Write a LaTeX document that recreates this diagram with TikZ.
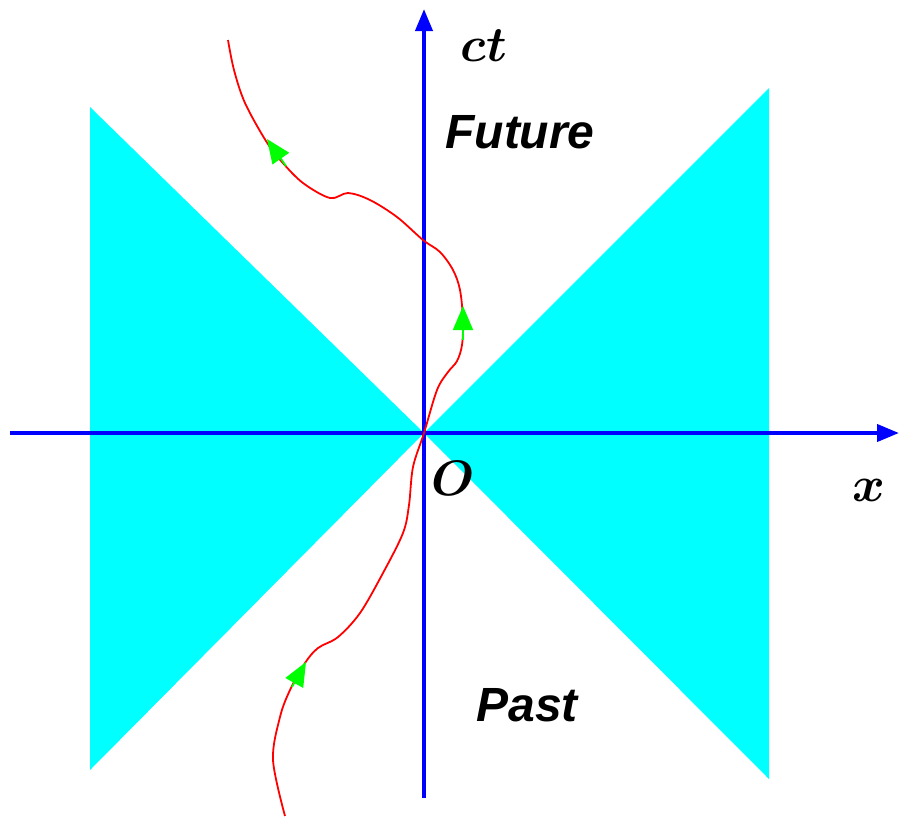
\documentclass[tikz,border=0pt]{standalone}
\usepackage{fontspec}
\usepackage{amsmath}
\setmainfont{Latin Modern Roman}
\newfontfamily\labelfont{Liberation Sans}
\usetikzlibrary{arrows.meta}
\definecolor{aqua}{RGB}{0,255,255}
\definecolor{pureblue}{RGB}{0,0,255}
\definecolor{purered}{RGB}{255,0,0}
\definecolor{puregreen}{RGB}{0,255,0}

\begin{document}
\begin{tikzpicture}[
            x=0.5pt, y=-0.5pt,
            axis/.style={draw=pureblue, line width=2pt, -{Triangle[length=11pt, width=8.5pt]}},
            cone/.style={fill=aqua},
            worldline/.style={draw=purered, line width=0.9pt},
            flow/.style={draw=puregreen, line width=0.9pt, -{Triangle[length=12pt, width=10pt]}, puregreen},
            region/.style={font=\labelfont\bfseries\itshape\fontsize{24}{28}\selectfont},
            symbol/.style={font=\fontsize{23}{27}\selectfont\boldmath}
        ]
            \useasboundingbox (0,0) rectangle (899,816);
            % Light cone
            \fill [cone] (90,107) -- (424,433) -- (90,770) -- cycle;
            \fill [cone] (769,88) -- (424,433) -- (769,779) -- cycle;

            % Axes
            \coordinate (O) at (424,433);
            \coordinate (xl) at (10,433);
            \coordinate (xr) at (899,433);
            \coordinate (tb) at (424,798);
            \coordinate (tt) at (424,9);
            \path [axis] (xl) -- (xr);
            \path [axis] (tb) -- (tt);

            % World line
            \draw [worldline] plot [smooth, tension=0.55] coordinates {
                (285,816) (273,760) (280,717) (290,690) (305,663) (318,648)
                (338,637) (360,613) (383,573) (403,533) (409,505) (413,467)
                (424,433) (437,390) (448,372) (457,361) (462,345) (463,320)
                (460,290) (453,270) (440,252) (423,240) (397,217) (370,200)
                (348,193) (330,198) (303,183) (282,162) (266,141) (245,103)
                (234,70) (228,40)};
            \coordinate (a1) at (292,687);
            \coordinate (b1) at (306,662);
            \coordinate (a2) at (463,340);
            \coordinate (b2) at (463,306);
            \coordinate (a3) at (286,166);
            \coordinate (b3) at (267,139);
            \path [flow] (a1) -- (b1);
            \path [flow] (a2) -- (b2);
            \path [flow] (a3) -- (b3);

            % Labels
            \node [symbol, font=\fontsize{27}{30}\selectfont\boldmath] (ct) at (484,46) {$ct$};
            \node [symbol] (origin) at (453,478) {$O$};
            \node [symbol] (xlabel) at (869,490) {$x$};
            \node [region] (future) at (520,132) {Future};
            \node [region] (past) at (527,705) {Past};
        \end{tikzpicture}
\end{document}
